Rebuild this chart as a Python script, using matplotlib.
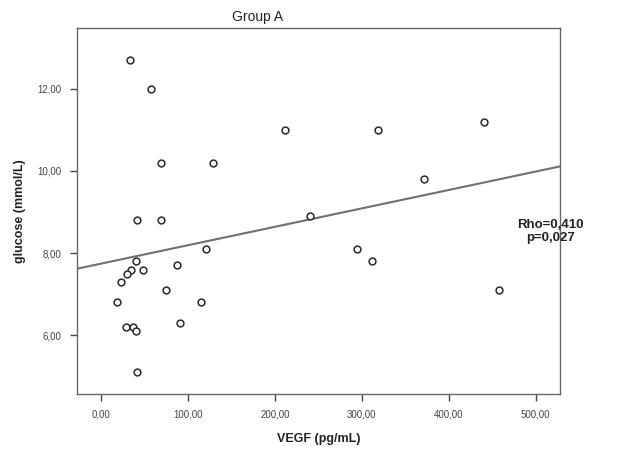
import numpy as np
import matplotlib
matplotlib.use("Agg")
import matplotlib.pyplot as plt

plt.rcParams['font.family'] = ['Liberation Sans', 'DejaVu Sans']

# VEGF (pg/mL) vs glucose (mmol/L)
vegf = [33, 57, 69, 128, 41, 69, 120, 40, 34, 29, 48, 87, 23, 74, 18, 115,
        28, 36, 40, 91, 41, 211, 319, 440, 372, 240, 294, 312, 458]
glucose = [12.7, 12.0, 10.2, 10.2, 8.8, 8.8, 8.1, 7.8, 7.6, 7.5, 7.6, 7.7, 7.3, 7.1,
           6.8, 6.8, 6.2, 6.2, 6.1, 6.3, 5.1, 11.0, 11.0, 11.2, 9.8, 8.9, 8.1, 7.8, 7.1]

# fit line (intercept, slope)
fit_b0 = 7.745
fit_b1 = 0.00448

xticks = [0, 100, 200, 300, 400, 500]
yticks = [6, 8, 10, 12]

fig = plt.figure(figsize=(6.4, 4.59), dpi=100)
ax = fig.add_axes([77/640, 1-394/459, (560-77)/640, (394-28)/459])

xlim = (-28, 528)
ylim = (4.57, 13.48)
xx = np.array(xlim)
ax.plot(xx, fit_b0 + fit_b1*xx, color='#707070', lw=1.5, zorder=2)
ax.scatter(vegf, glucose, s=24, facecolors='white', edgecolors='#2a2a2a', linewidths=1.1, zorder=3)

ax.set_xlim(xlim)
ax.set_ylim(ylim)
ax.set_xticks(xticks)
ax.set_yticks(yticks)
ax.set_xticklabels([('%.2f' % v).replace('.', ',') for v in xticks])
ax.set_yticklabels([('%.2f' % v).replace('.', ',') for v in yticks])
ax.tick_params(direction='out', length=5, width=1, color='#444444', labelsize=7, labelcolor='#444444', pad=6)

for s in ax.spines.values():
    s.set_color('#666666')
    s.set_linewidth(1)

ax.set_xlabel('VEGF (pg/mL)', fontsize=9, fontweight='bold', color='#222222', labelpad=10)
ax.set_ylabel('glucose (mmol/L)', fontsize=9, fontweight='bold', color='#222222', labelpad=8)

ax.text(517, 8.52, 'Rho=0,410\np=0,027', ha='center', va='center', fontsize=9.5,
        fontweight='bold', color='#222222', linespacing=1.15)

fig.text(258/640, 1-17/459, 'Group A', ha='center', va='center', fontsize=10, color='#222222')

fig.savefig('out.png', dpi=100)
